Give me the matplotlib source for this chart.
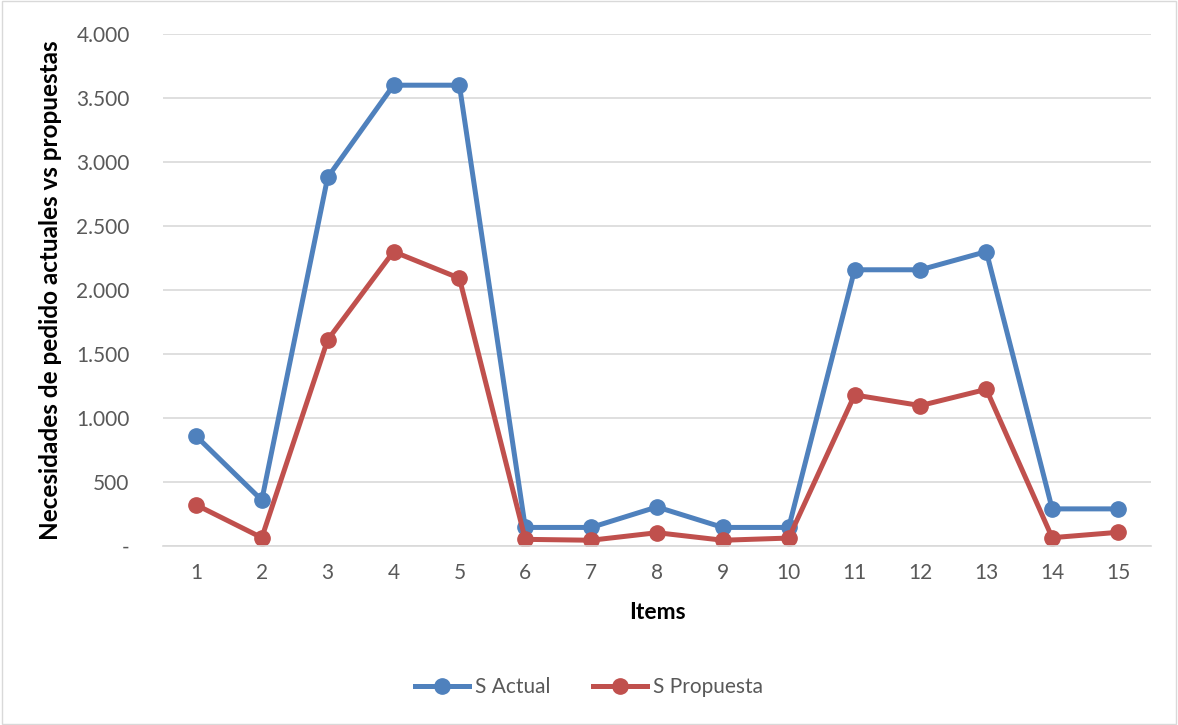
import matplotlib
matplotlib.use("Agg")
from matplotlib import pyplot as plt
from matplotlib.ticker import FuncFormatter

items = list(range(1, 16))
s_actual = [860, 358, 2880, 3600, 3600, 145, 145, 305, 145, 145, 2158, 2158, 2300, 290, 290]
s_propuesta = [322, 65, 1610, 2300, 2092, 52, 45, 104, 45, 62, 1180, 1097, 1224, 65, 107]
y_ticks = [0, 500, 1000, 1500, 2000, 2500, 3000, 3500, 4000]

plt.rcParams['font.family'] = ['Lato', 'DejaVu Sans']

fig = plt.figure(figsize=(11.78, 7.25), dpi=100)
ax = fig.add_axes([163 / 1178, 1 - 546 / 725, (1151 - 163) / 1178, (546 - 34) / 725])

ax.plot(items, s_actual, color="#4F81BD", lw=3.6, marker="o", markersize=11, label="S Actual")
ax.plot(items, s_propuesta, color="#C0504D", lw=3.6, marker="o", markersize=11, label="S Propuesta")

ax.set_xlim(0.5, 15.5)
ax.set_ylim(0, 4000)
ax.set_xticks(items)
ax.set_yticks(y_ticks)

def fmt(v, pos):
    if v == 0:
        return "-"
    return f"{int(v):,}".replace(",", ".")

ax.yaxis.set_major_formatter(FuncFormatter(fmt))
ax.grid(axis="y", color="#D9D9D9", lw=1.2)
ax.set_axisbelow(True)
for s in ["top", "right", "left"]:
    ax.spines[s].set_visible(False)
ax.spines["bottom"].set_color("#D9D9D9")
ax.spines["bottom"].set_linewidth(1.2)
ax.tick_params(length=0, labelsize=15, colors="#595959", pad=12)
ax.tick_params(axis="y", pad=24)

ax.set_xlabel("Items", fontsize=16.5, fontweight="bold", labelpad=14)
ax.set_ylabel("Necesidades de pedido actuales vs propuestas", fontsize=17.5, fontweight="bold", labelpad=10)

fig.legend(loc="center", bbox_to_anchor=(0.5, 1 - 687 / 725), ncol=2, frameon=False,
           fontsize=15, labelcolor="#595959", handlelength=2.6, handletextpad=0.3,
           columnspacing=2.0)

fig.patches.append(plt.Rectangle((0.002, 0.002), 0.996, 0.996, transform=fig.transFigure,
                                 fill=False, edgecolor="#D9D9D9", lw=1))

fig.savefig("out.png", dpi=100)
